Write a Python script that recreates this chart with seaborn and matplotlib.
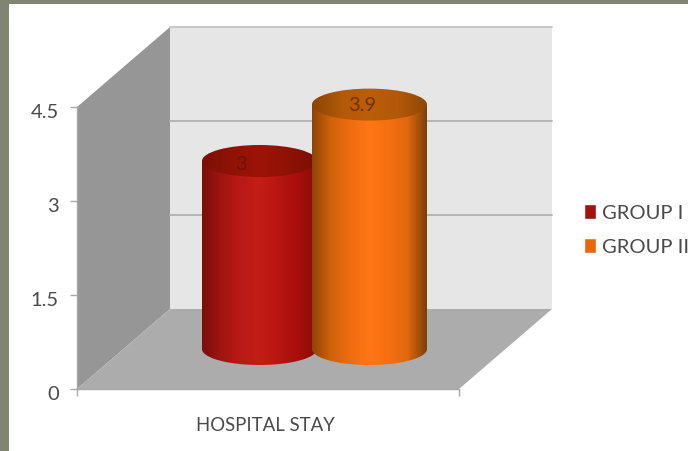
import numpy as np
import pandas as pd
import matplotlib
matplotlib.use("Agg")
import matplotlib.pyplot as plt
import seaborn as sns
from matplotlib.colors import LinearSegmentedColormap
from matplotlib.patches import Polygon, Rectangle, Ellipse
from matplotlib.transforms import ScaledTranslation

categories = ["HOSPITAL STAY"]
groups = ["GROUP I", "GROUP II"]
group_1_values = [3.0]
group_2_values = [3.9]
y_ticks = [0, 1.5, 3, 4.5]
y_tick_labels = ["0", "1.5", "3", "4.5"]

W, H = 688, 452
sns.set_theme(style="white")
plt.rcParams["font.family"] = ["Lato", "DejaVu Sans"]
TEXT = "#4a4a4a"

fig = plt.figure(figsize=(W / 100, H / 100), dpi=100, facecolor="white")

# slide frame
FRAME = "#7f8571"
fig.patches.append(Rectangle((0, 0), 9 / W, 1, transform=fig.transFigure, color=FRAME, lw=0))
fig.patches.append(Rectangle((0, 1 - 5 / H), 1, 5 / H, transform=fig.transFigure, color=FRAME, lw=0))

def axes_at(left, right, top, bottom, **kw):
    return fig.add_axes([left / W, 1 - bottom / H, (right - left) / W, (bottom - top) / H], **kw)

# front plane of the 3D box
L, R, T, B = 77, 459, 108, 390
DX, DY = 93, 80
ax = axes_at(L, R, T, B)
ax.set_facecolor("none")
ax.set_xlim(-0.5, 0.5)
ax.set_ylim(0, 4.5)
dx, dy = DX / (R - L), DY / (B - T)
walls = [
    ([(0, 0), (dx, dy), (dx, 1 + dy), (0, 1)], "#969696"),
    ([(dx, dy), (1 + dx, dy), (1 + dx, 1 + dy), (dx, 1 + dy)], "#e6e6e6"),
    ([(0, 0), (1, 0), (1 + dx, dy), (dx, dy)], "#acacac"),
]
for pts, col in walls:
    ax.add_patch(Polygon(pts, closed=True, transform=ax.transAxes, facecolor=col,
                         edgecolor="none", clip_on=False, zorder=0))
for v in y_ticks[1:]:
    f = v / max(y_ticks) + dy
    ax.plot([dx, 1 + dx], [f, f], transform=ax.transAxes, color="#b4b4b4" if v < 4.5 else "#c8c8c8",
            lw=1.4, clip_on=False, zorder=1)
for s in ["top", "right"]:
    ax.spines[s].set_visible(False)
for s in ["left", "bottom"]:
    ax.spines[s].set_color("#a8a8a8")
    ax.spines[s].set_linewidth(1.0)
ax.set_yticks(y_ticks, y_tick_labels)
ax.set_xticks([-0.5, 0.5], ["", ""])
ax.tick_params(axis="y", length=5, width=1, color="#a8a8a8", labelcolor=TEXT, labelsize=14.5, pad=8, left=True)
ax.tick_params(axis="x", length=5, width=1, color="#a8a8a8", bottom=True)
for lab in ax.get_yticklabels():
    lab.set_transform(lab.get_transform() + ScaledTranslation(0, -2 / 72, fig.dpi_scale_trans))
ax.text(-3 / (R - L), -0.125, categories[0], transform=ax.get_xaxis_transform(), ha="center", va="center",
        fontsize=13.4, color=TEXT)

# columns stand half way into the box
ax2 = axes_at(L + DX / 2, R + DX / 2, T - DY / 2, B - DY / 2)
ax2.patch.set_alpha(0)
df = pd.DataFrame({
    "category": categories * 2,
    "group": groups,
    "value": group_1_values + group_2_values,
})
palette = {"GROUP I": "#a3140f", "GROUP II": "#e8680c"}
bar_width = 110 / (R - L)
sns.barplot(data=df, x="category", y="value", hue="group", palette=palette, width=2 * bar_width,
            saturation=1, ax=ax2, legend=True, errorbar=None)
ax2.axis("off")

cmaps = {
    "GROUP I": ["#7c0e09", "#a01411", "#b81a15", "#c41d17", "#b81512", "#a80e0c", "#8a0c08"],
    "GROUP II": ["#8d4407", "#d0620a", "#ee6d0e", "#ff7616", "#f57012", "#e0680e", "#7c4007"],
}
tops = {
    "GROUP I": ["#7c0f06", "#8f1206", "#9c1407", "#8f1206", "#7a0e05"],
    "GROUP II": ["#8a4506", "#b25808", "#bc5e08", "#b25808", "#8f4806"],
}
label_offsets = {"GROUP I": -19, "GROUP II": -7}
label_dy = {"GROUP I": -3, "GROUP II": 0}
label_colors = {"GROUP I": "#6f1008", "GROUP II": "#6b3308"}
ELL_H = 32 / 62.67  # ellipse height in data units
EXTRA = 5 / (R - L)
bars = [p for p in ax2.patches if p.get_height() > 0]
for i, (bar, g) in enumerate(zip(bars, groups)):
    c = bar.get_x() + bar.get_width() / 2
    w = bar.get_width() + EXTRA
    h = bar.get_height()
    bar.set_alpha(0)
    t = np.linspace(np.pi, 2 * np.pi, 80)
    xs = np.r_[c + w / 2 * np.cos(t), c + w / 2, c - w / 2]
    ys = np.r_[ELL_H / 2 * np.sin(t), h, h]
    side = Polygon(np.c_[xs, ys], closed=True, facecolor="none", edgecolor="none",
                   transform=ax2.transData, clip_on=False)
    ax2.add_patch(side)
    grad = np.linspace(0, 1, 256)[None, :]
    z = 3 + 2 * i
    im = ax2.imshow(grad, cmap=LinearSegmentedColormap.from_list(g, cmaps[g]), aspect="auto",
                    extent=(c - w / 2, c + w / 2, -ELL_H, h + ELL_H), zorder=z)
    im.set_clip_box(fig.bbox)
    im.set_clip_path(side)
    top = Ellipse((c, h), w, ELL_H, facecolor="none", edgecolor="none", transform=ax2.transData, clip_on=False)
    ax2.add_patch(top)
    im2 = ax2.imshow(grad, cmap=LinearSegmentedColormap.from_list(g + "t", tops[g]), aspect="auto",
                     extent=(c - w / 2, c + w / 2, h - ELL_H, h + ELL_H), zorder=z + 1)
    im2.set_clip_box(fig.bbox)
    im2.set_clip_path(top)
    ax2.annotate(f"{h:g}", (c, h), xytext=(label_offsets[g] * 0.72, label_dy[g] * 0.72), textcoords="offset points",
                 ha="center", va="center", fontsize=14.5, color=label_colors[g], zorder=10)
ax2.set_xlim(-0.5, 0.5)
ax2.set_ylim(0, 4.5)

sns.move_legend(ax2, loc="center left", bbox_to_anchor=(584 / W, 1 - 230.5 / H),
                bbox_transform=fig.transFigure, frameon=False, title=None, fontsize=14.5,
                handlelength=0.6, handleheight=0.8, handletextpad=0.3, labelspacing=0.8,
                borderpad=0, borderaxespad=0, labelcolor=TEXT)
for h_, g in zip(ax2.get_legend().legend_handles, groups):
    h_.set_alpha(1)
    h_.set_facecolor(palette[g])

fig.savefig("out.png", dpi=100)
